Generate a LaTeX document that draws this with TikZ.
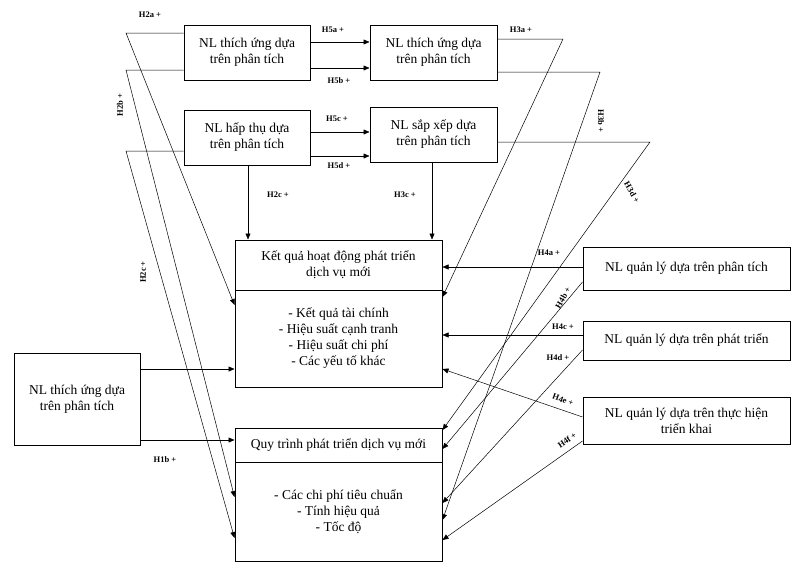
\documentclass[tikz,border=0pt]{standalone}
\usepackage{fontspec}
\setmainfont{Liberation Serif}
\usetikzlibrary{arrows.meta}
\begin{document}
\begin{tikzpicture}[x=1pt,y=-1pt,
 box/.style={draw,line width=1pt,inner sep=0,align=center,font=\fontsize{13.5}{16}\selectfont},
 ar/.style={-{Triangle[length=6pt,width=5pt]},line width=0.5pt},
 lb/.style={font=\bfseries\fontsize{8.5}{10}\selectfont,inner sep=1pt}]
\useasboundingbox (0,0) rectangle (801,576);
\node[box,minimum width=126,minimum height=55] (A) at (247,52.5) {NL thích ứng dựa\\trên phân tích};
\node[box,minimum width=127,minimum height=55] (B) at (433.5,52.5) {NL thích ứng dựa\\trên phân tích};
\node[box,minimum width=126,minimum height=55] (C) at (247,137.5) {NL hấp thụ dựa\\trên phân tích};
\node[box,minimum width=127,minimum height=55] (D) at (433.5,134.5) {NL sắp xếp dựa\\trên phân tích};
\node[box,minimum width=207,minimum height=50] (Eh) at (338.5,265) {Kết quả hoạt động phát triển\\dịch vụ mới};
\node[box,minimum width=207,minimum height=97] (Eb) at (338.5,338.5) {- Kết quả tài chính\\- Hiệu suất cạnh tranh\\- Hiệu suất chi phí\\- Các yếu tố khác};
\node[box,minimum width=207,minimum height=34] (Fh) at (338.5,445) {Quy trình phát triển dịch vụ mới};
\node[box,minimum width=207,minimum height=99] (Fb) at (338.5,511.5) {- Các chi phí tiêu chuẩn\\- Tính hiệu quả\\- Tốc độ};
\node[box,minimum width=126,minimum height=92] (G) at (77,399) {NL thích ứng dựa\\trên phân tích};
\node[box,minimum width=207,minimum height=43] (R1) at (686.5,268.5) {NL quản lý dựa trên phân tích};
\node[box,minimum width=207,minimum height=39] (R2) at (686.5,340.5) {NL quản lý dựa trên phát triển};
\node[box,minimum width=207,minimum height=47] (R3) at (686.5,420.5) {NL quản lý dựa trên thực hiện\\triển khai};
% H5
\draw[ar] (A.east|-0,42) -- (B.west|-0,42);
\draw[ar] (A.east|-0,68) -- (B.west|-0,68);
\draw[ar] (C.east|-0,132) -- (D.west|-0,132);
\draw[ar] (C.east|-0,156) -- (D.west|-0,156);
% H2
\coordinate (p2a) at (126,33); \coordinate (p2b) at (126,70); \coordinate (p2c) at (126,151);
\draw[ar] (A.west|-p2a) -- (p2a) -- (Eb.west|-0,305);
\draw[ar] (A.west|-p2b) -- (p2b) -- (Fb.west|-0,497);
\draw[ar] (C.west|-p2c) -- (p2c) -- (Fb.west|-0,538);
\draw[ar] (248,165) -- (Eh.north-|248,0);
\draw[ar] (432,162) -- (Eh.north-|432,0);
% H1
\draw[ar] (G.east|-0,369) -- (Eb.west|-0,369);
\draw[ar] (G.east|-0,440) -- (Fh.west|-0,440);
% H3
\coordinate (p3a) at (563,39); \coordinate (p3b) at (600,72); \coordinate (p3d) at (650,142);
\draw[ar] (B.east|-p3a) -- (p3a) -- (Eb.east|-0,297);
\draw[ar] (B.east|-p3b) -- (p3b) -- (Fb.east|-0,520);
\draw[ar] (D.east|-p3d) -- (p3d) -- (Fh.east|-0,430);
% H4
\draw[ar] (R1.west|-0,267) -- (Eh.east|-0,267);
\draw[ar] (R1.west|-0,282) -- (Fh.east|-0,449);
\draw[ar] (R2.west|-0,335) -- (Eb.east|-0,335);
\draw[ar] (R2.west|-0,350) -- (Fb.east|-0,503);
\draw[ar] (R3.west|-0,417) -- (Eb.east|-0,369);
\draw[ar] (R3.west|-0,441) -- (Fb.east|-0,540);
% labels
\node[lb] (l1) at (150,15) {H2a +};
\node[lb] (l2) at (333,30) {H5a +};
\node[lb] (l3) at (339,81) {H5b +};
\node[lb] (l4) at (521,30) {H3a +};
\node[lb] (l5) at (337,119) {H5c +};
\node[lb] (l6) at (339,166) {H5d +};
\node[lb] (l7) at (278,195) {H2c +};
\node[lb] (l8) at (405,195) {H3c +};
\node[lb,rotate=90] (l9) at (120,105) {H2b +};
\node[lb,rotate=90] (l10) at (143,272) {H2c +};
\node[lb,rotate=-90] (l11) at (601,121) {H3b +};
\node[lb,rotate=-60] (l12) at (632,192) {H3d +};
\node[lb] (l13) at (549,253) {H4a +};
\node[lb,rotate=60] (l14) at (563,298) {H4b +};
\node[lb] (l15) at (563,327) {H4c +};
\node[lb] (l16) at (558,358) {H4d +};
\node[lb,rotate=-20] (l17) at (563,400) {H4e +};
\node[lb,rotate=35] (l18) at (567,440) {H4f +};
\node[lb] (l19) at (165,460) {H1b +};
\end{tikzpicture}
\end{document}
